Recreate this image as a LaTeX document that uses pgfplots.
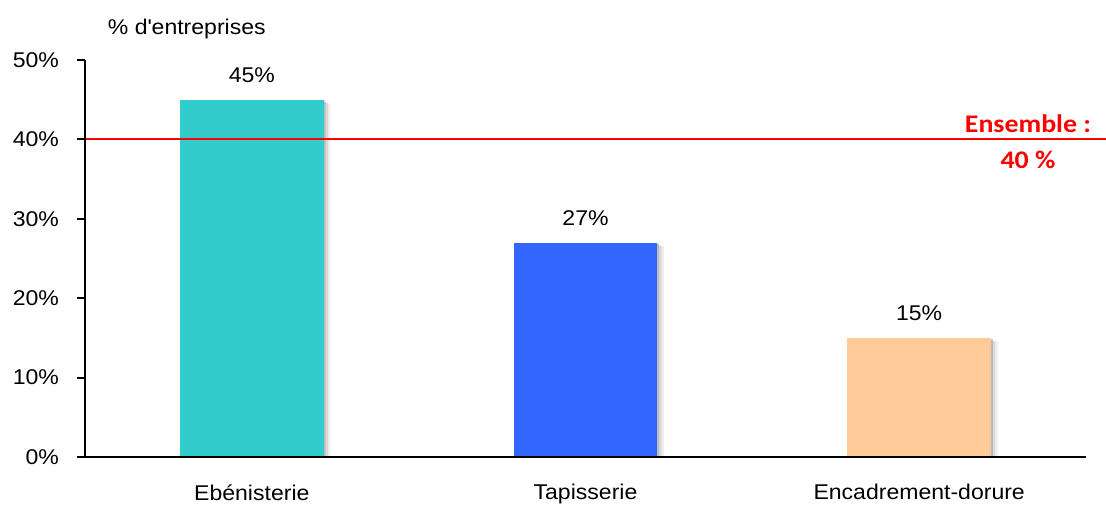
\documentclass[border=0pt]{standalone}
\usepackage{fontspec}
\setmainfont{Liberation Sans}[FakeStretch=1.08]
\newfontfamily\calib{Carlito}[FakeStretch=1.1]
\usepackage{pgfplots}
\pgfplotsset{compat=1.18}
\definecolor{cteal}{HTML}{33CCCC}
\definecolor{cblue}{HTML}{3366FF}
\definecolor{cpeach}{HTML}{FFCC99}
\pgfplotsset{
  mybar/.style={ybar, bar width=0.43, bar shift=0pt, draw=none,
    nodes near coords={\pgfmathprintnumber{\pgfplotspointmeta}\%},
    every node near coord/.append style={anchor=south, yshift=7pt, black}},
}
\begin{document}
\fontsize{16pt}{19pt}\selectfont
\begin{tikzpicture}
\useasboundingbox (-63.75pt,-36pt) rectangle (765.75pt,342.75pt);
\begin{axis}[
  scale only axis,
  axis on top,
  width=750.75pt, height=297.75pt,
  xmin=-0.5, xmax=2.5, ymin=0, ymax=50,
  axis x line*=bottom, axis y line*=left,
  axis line style={line width=2pt, black, -},
  xtick={0,1,2},
  xticklabels={Ebénisterie,Tapisserie,Encadrement-dorure},
  xtick style={draw=none},
  minor xtick={-0.5,0.5,1.5,2.5},
  minor tick length=4pt,
  minor x tick style={line width=1.5pt, black},
  ytick={0,10,20,30,40,50},
  yticklabel={\pgfmathprintnumber{\tick}\%},
  ytick style={line width=1.5pt, black},
  major tick length=6pt,
  tick align=outside,
  /pgf/number format/assume math mode=true,
  yticklabel style={xshift=-8pt},
  xticklabel style={yshift=-9pt},
  clip=false,
]
\addplot[mybar, fill=black!7, nodes near coords={}, bar shift=0.02] coordinates {(0,44.5) (1,26.5) (2,14.5)};
\addplot[mybar, fill=black!15, nodes near coords={}, bar shift=0.013] coordinates {(0,44.6) (1,26.6) (2,14.6)};
\addplot[mybar, fill=black!27, nodes near coords={}, bar shift=0.006] coordinates {(0,44.8) (1,26.8) (2,14.8)};
\addplot[mybar, fill=cteal] coordinates {(0,45)};
\addplot[mybar, fill=cblue] coordinates {(1,27)};
\addplot[mybar, fill=cpeach] coordinates {(2,15)};
\addplot[color=red, line width=1.5pt, solid, no markers] coordinates {(-0.524,40) (2.561,40)};
\draw[line width=1.8pt, black] (rel axis cs:0,1) -- (rel axis cs:0,0) -- (rel axis cs:1,0);
\node[anchor=west, inner sep=0pt] at ([xshift=17pt, yshift=23.5pt]axis cs:-0.5,50) {\% d\textquotesingle entreprises};
\node[text=red, inner sep=0pt] at ([xshift=-43.5pt, yshift=11.5pt]axis cs:2.5,40) {\calib\fontsize{19pt}{22pt}\selectfont\bfseries Ensemble :};
\node[text=red, inner sep=0pt] at ([xshift=-43.5pt, yshift=-15.5pt]axis cs:2.5,40) {\calib\fontsize{19pt}{22pt}\selectfont\bfseries 40 \%};
\end{axis}
\end{tikzpicture}
\end{document}
